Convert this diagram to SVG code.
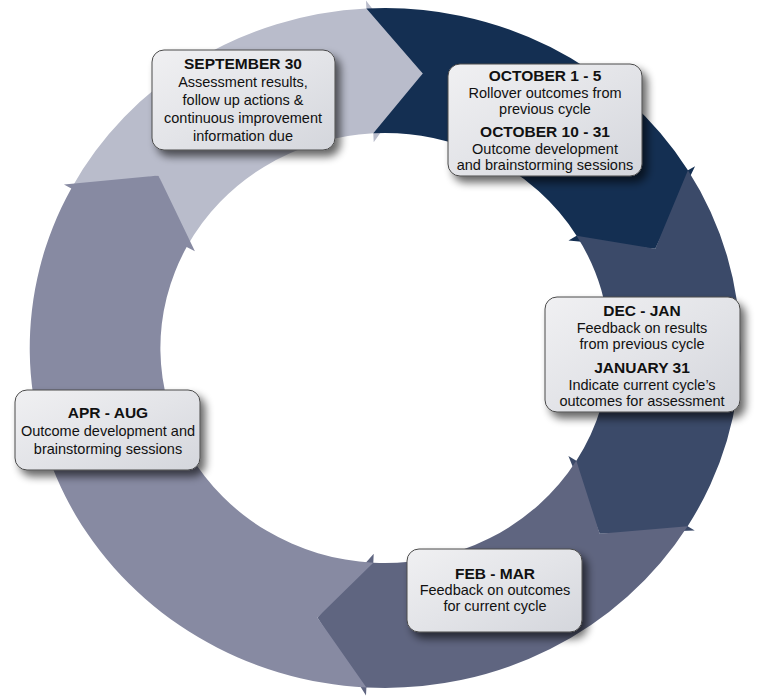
<svg xmlns="http://www.w3.org/2000/svg" width="770" height="700" viewBox="0 0 770 700">
<defs>
<linearGradient id="bg" x1="0" y1="0" x2="1" y2="1"><stop offset="0" stop-color="#f0f0f2"/><stop offset="0.5" stop-color="#e3e4e8"/><stop offset="1" stop-color="#d4d6dc"/></linearGradient>
<filter id="sh" x="-20%" y="-20%" width="150%" height="160%"><feGaussianBlur in="SourceAlpha" stdDeviation="4"/><feOffset dx="5" dy="6"/><feComponentTransfer><feFuncA type="linear" slope="0.6"/></feComponentTransfer><feMerge><feMergeNode/><feMergeNode in="SourceGraphic"/></feMerge></filter>
<style>
.box{fill:url(#bg);stroke:#4a4a4a;stroke-width:1;filter:url(#sh)}
text{font-family:"Liberation Sans",Arial,sans-serif;font-size:14.5px;fill:#111;text-anchor:middle}
.b{font-weight:bold;font-size:15.5px}
</style>
</defs>
<g id="connectors" transform="translate(385,0) scale(1.045,1) translate(-385,0)">
<path fill="#b9bccb" d="M84.8,188.4 A340,340 0 0 1 367.2,8.5 L366.8,0.5 L421.1,73.4 L374.2,142.3 L373.8,133.3 A215,215 0 0 0 195.2,247.1 L168.2,175.6 Z"/>
<path fill="#142f52" d="M367.2,8.5 A340,340 0 0 1 674.9,170.3 L681.7,166.2 L643.6,248.7 L560.6,240.4 L568.3,235.7 A215,215 0 0 0 373.8,133.3 L421.1,73.4 Z"/>
<path fill="#3b4a69" d="M674.9,170.3 A340,340 0 0 1 674.6,526.2 L681.4,530.4 L590.5,533.7 L560.5,455.9 L568.1,460.7 A215,215 0 0 0 568.3,235.7 L643.6,248.7 Z"/>
<path fill="#5f6580" d="M674.6,526.2 A340,340 0 0 1 367.2,687.5 L366.8,695.5 L320.3,617.4 L374.2,553.7 L373.8,562.7 A215,215 0 0 0 568.1,460.7 L590.5,533.7 Z"/>
<path fill="#878aa2" d="M367.2,687.5 A340,340 0 0 1 84.8,188.4 L77.8,184.6 L168.2,175.6 L203.1,251.3 L195.2,247.1 A215,215 0 0 0 373.8,562.7 L320.3,617.4 Z"/>
</g>
<g id="sep">
<rect class="box" x="152" y="50" width="183" height="100" rx="12"/>
<text class="b" x="243" y="69">SEPTEMBER 30</text>
<text x="243" y="87">Assessment results,</text>
<text x="243" y="105">follow up actions &amp;</text>
<text x="243" y="123">continuous improvement</text>
<text x="243" y="141">information due</text>
</g>
<g id="oct">
<rect class="box" x="448" y="64" width="194" height="112" rx="12"/>
<text class="b" x="545" y="81">OCTOBER 1 - 5</text>
<text x="545" y="98">Rollover outcomes from</text>
<text x="545" y="114">previous cycle</text>
<text class="b" x="545" y="137">OCTOBER 10 - 31</text>
<text x="545" y="154">Outcome development</text>
<text x="545" y="170">and brainstorming sessions</text>
</g>
<g id="dec">
<rect class="box" x="545" y="297" width="195" height="115" rx="12"/>
<text class="b" x="642" y="316">DEC - JAN</text>
<text x="642" y="333">Feedback on results</text>
<text x="642" y="349">from previous cycle</text>
<text class="b" x="642" y="373">JANUARY 31</text>
<text x="642" y="390">Indicate current cycle’s</text>
<text x="642" y="406">outcomes for assessment</text>
</g>
<g id="apr">
<rect class="box" x="15" y="390" width="185" height="80" rx="12"/>
<text class="b" x="108" y="418">APR - AUG</text>
<text x="108" y="436">Outcome development and</text>
<text x="108" y="454">brainstorming sessions</text>
</g>
<g id="feb">
<rect class="box" x="407" y="549" width="175" height="83" rx="12"/>
<text class="b" x="495" y="579">FEB - MAR</text>
<text x="495" y="595">Feedback on outcomes</text>
<text x="495" y="611">for current cycle</text>
</g>
</svg>
